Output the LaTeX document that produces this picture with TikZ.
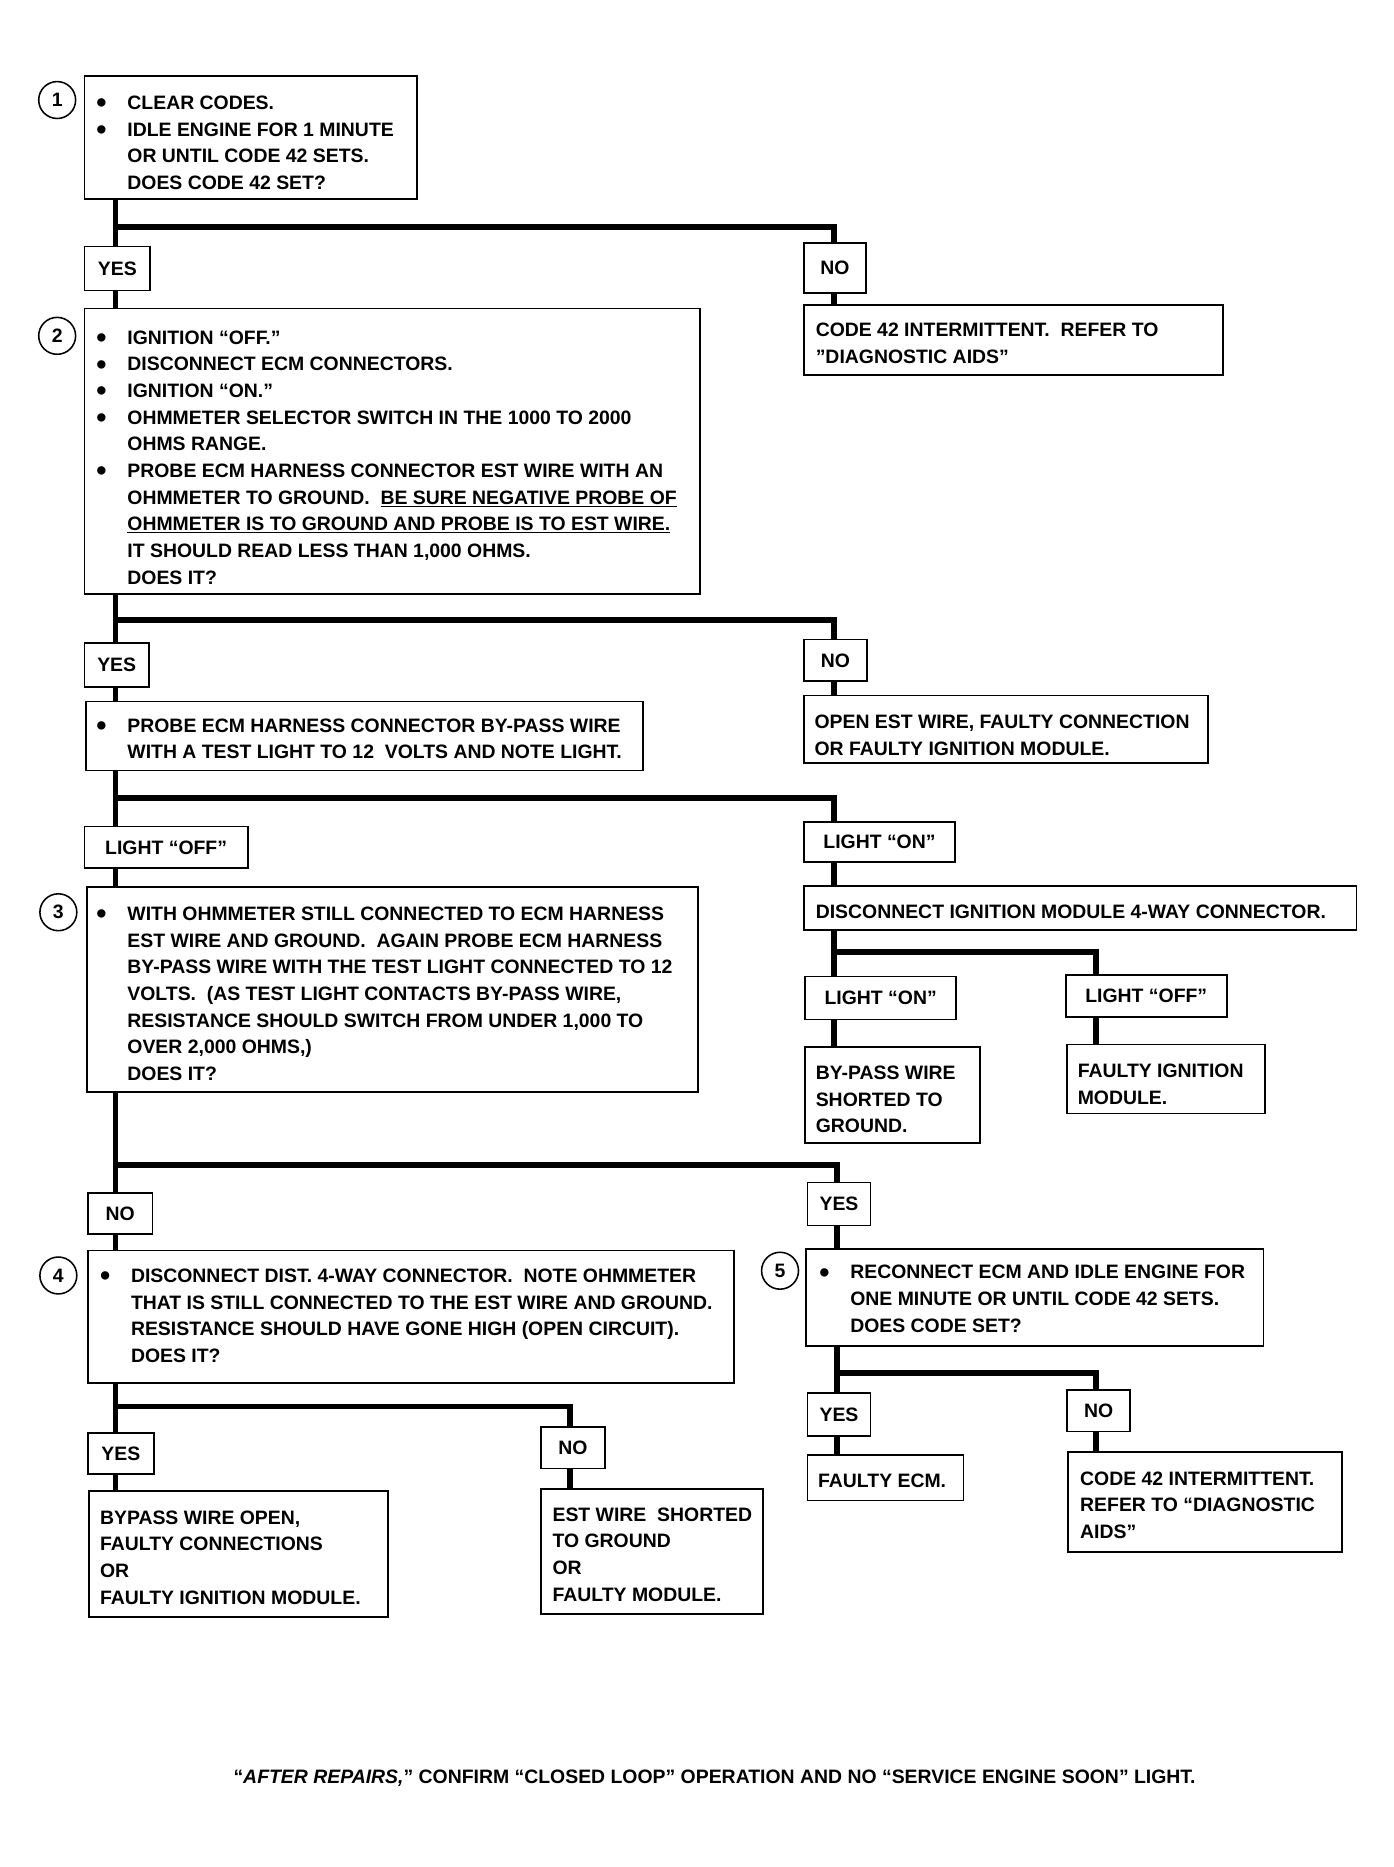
\documentclass[tikz,border=0pt]{standalone}
\usepackage{fontspec}
\setmainfont{Liberation Sans}
\newcommand{\fs}{\fontsize{16.3}{22.4}\selectfont\bfseries}
\newcommand{\bu}{\makebox[25pt][l]{\hspace*{-1pt}\raisebox{-2.9pt}{\scalebox{1.5}{\textbullet}}}}
\newcommand{\ind}{\hspace*{25pt}}
\newcommand{\bx}[5]{\node[box, minimum width={#4-#2}, minimum height={#5-#3}] (#1) at (#2,#3) {};}
\newcommand{\lb}[6]{\node[box, font=\fs, minimum width={#4-#2}, minimum height={#5-#3}] (#1) at (#2,#3) {#6};}
\tikzset{
  box/.style={draw, line width=1.5pt, inner sep=0pt, outer sep=0pt, anchor=north west, fill=white},
  txt/.style={anchor=north west, inner sep=0pt, outer sep=0pt, align=left, font=\fs},
  wire/.style={line width=5pt, line join=miter},
  num/.style={circle, draw, line width=1.3pt, minimum size=31pt, inner sep=0pt, font=\fs},
}
\begin{document}
\begin{tikzpicture}[x=1pt,y=-1pt]
\useasboundingbox (0,0) rectangle (1170.5,1567.7);
% trunk coordinates
\coordinate (ta) at (97,0);
\coordinate (tb) at (700,0);
\coordinate (tc) at (920,0);
\coordinate (td) at (703,0);
\coordinate (te) at (479,0);
\coordinate (j1) at (97,191);
\coordinate (j2) at (97,521);
\coordinate (j3) at (97,670);
\coordinate (j4) at (700,799);
\coordinate (j5) at (97,978);
\coordinate (j6) at (97,1181);
\coordinate (j7) at (703,1153);

% boxes
\bx{b1}{71}{64}{350}{167}
\lb{y1}{71}{207}{126}{244}{YES}
\lb{n1}{675}{204}{727}{246}{NO}
\bx{nb1}{675}{256}{1027}{315}
\bx{b2}{71}{259}{588}{499}
\lb{y2}{71}{540}{125}{577}{YES}
\lb{n2}{675}{537}{728}{572}{NO}
\bx{nb2}{675}{584}{1014}{641}
\bx{bp}{72}{589}{540}{647}
\lb{lo1}{71}{694}{208}{729}{LIGHT “OFF”}
\lb{ln1}{675}{690}{802}{724}{LIGHT “ON”}
\bx{dim}{675}{744}{1139}{781}
\lb{ln2}{676}{820}{803}{856}{LIGHT “ON”}
\lb{lo2}{895}{819}{1030}{854}{LIGHT “OFF”}
\bx{bps}{676}{879}{823}{960}
\bx{fim}{896}{877}{1062}{935}
\bx{b3}{73}{745}{586}{917}
\lb{n3}{74}{1002}{128}{1036}{NO}
\lb{y3}{678}{993}{731}{1029}{YES}
\bx{b4}{74}{1050}{616}{1161}
\bx{b5}{677}{1049}{1061}{1130}
\lb{y4}{74}{1203}{129}{1238}{YES}
\lb{n4}{454}{1198}{508}{1233}{NO}
\bx{bwo}{75}{1252}{326}{1358}
\bx{ews}{454}{1250}{641}{1355}
\lb{y5}{678}{1170}{731}{1206}{YES}
\lb{n5}{896}{1167}{949}{1202}{NO}
\bx{fecm}{678}{1222}{809}{1260}
\bx{c42}{897}{1219}{1127}{1303}

% connectors
\draw[wire] (b1.south -| ta) -- (y1.north -| ta);
\draw[wire] (j1) -| (n1.north -| tb);
\draw[wire] (y1.south -| ta) -- (b2.north -| ta);
\draw[wire] (n1.south -| tb) -- (nb1.north -| tb);
\draw[wire] (b2.south -| ta) -- (y2.north -| ta);
\draw[wire] (j2) -| (n2.north -| tb);
\draw[wire] (y2.south -| ta) -- (bp.north -| ta);
\draw[wire] (n2.south -| tb) -- (nb2.north -| tb);
\draw[wire] (bp.south -| ta) -- (lo1.north -| ta);
\draw[wire] (j3) -| (ln1.north -| tb);
\draw[wire] (lo1.south -| ta) -- (b3.north -| ta);
\draw[wire] (ln1.south -| tb) -- (dim.north -| tb);
\draw[wire] (dim.south -| tb) -- (ln2.north -| tb);
\draw[wire] (j4) -| (lo2.north -| tc);
\draw[wire] (ln2.south -| tb) -- (bps.north -| tb);
\draw[wire] (lo2.south -| tc) -- (fim.north -| tc);
\draw[wire] (b3.south -| ta) -- (n3.north -| ta);
\draw[wire] (j5) -| (y3.north -| td);
\draw[wire] (n3.south -| ta) -- (b4.north -| ta);
\draw[wire] (y3.south -| td) -- (b5.north -| td);
\draw[wire] (b4.south -| ta) -- (y4.north -| ta);
\draw[wire] (j6) -| (n4.north -| te);
\draw[wire] (y4.south -| ta) -- (bwo.north -| ta);
\draw[wire] (n4.south -| te) -- (ews.north -| te);
\draw[wire] (b5.south -| td) -- (y5.north -| td);
\draw[wire] (j7) -| (n5.north -| tc);
\draw[wire] (y5.south -| td) -- (fecm.north -| td);
\draw[wire] (n5.south -| tc) -- (c42.north -| tc);

% step numbers
\node[num] (c1) at (48,84) {1};
\node[num] (c2) at (48,282) {2};
\node[num] (c3) at (49,766) {3};
\node[num] (c4) at (49,1071) {4};
\node[num] (c5) at (655,1067) {5};

% texts
\node[txt] (t1) at (82,80.5) {\bu CLEAR CODES.\\
\bu IDLE ENGINE FOR 1 MINUTE\\
\ind OR UNTIL CODE 42 SETS.\\
\ind DOES CODE 42 SET?};
\node[txt] (tn1) at (685,271.5) {CODE 42 INTERMITTENT.\ \ REFER TO\\
”DIAGNOSTIC AIDS”};
\node[txt] (t2) at (82,277.5) {\bu IGNITION “OFF.”\\
\bu DISCONNECT ECM CONNECTORS.\\
\bu IGNITION “ON.”\\
\bu OHMMETER SELECTOR SWITCH IN THE 1000 TO 2000\\
\ind OHMS RANGE.\\
\bu PROBE ECM HARNESS CONNECTOR EST WIRE WITH AN\\
\ind OHMMETER TO GROUND.\ \ \underline{BE SURE NEGATIVE PROBE OF}\\
\ind \underline{OHMMETER IS TO GROUND AND PROBE IS TO EST WIRE.}\\
\ind IT SHOULD READ LESS THAN 1,000 OHMS.\\
\ind DOES IT?};
\node[txt] (tn2) at (684,600.5) {OPEN EST WIRE, FAULTY CONNECTION\\
OR FAULTY IGNITION MODULE.};
\node[txt] (tp) at (82,603.5) {\bu PROBE ECM HARNESS CONNECTOR BY-PASS WIRE\\
\ind WITH A TEST LIGHT TO 12\ \ VOLTS AND NOTE LIGHT.};
\node[txt] (tdim) at (685,759.5) {DISCONNECT IGNITION MODULE 4-WAY CONNECTOR.};
\node[txt] (tbps) at (685,895) {BY-PASS WIRE\\
SHORTED TO\\
GROUND.};
\node[txt] (tfim) at (905,893.5) {FAULTY IGNITION\\
MODULE.};
\node[txt] (t3) at (82,761.5) {\bu WITH OHMMETER STILL CONNECTED TO ECM HARNESS\\
\ind EST WIRE AND GROUND.\ \ AGAIN PROBE ECM HARNESS\\
\ind BY-PASS WIRE WITH THE TEST LIGHT CONNECTED TO 12\\
\ind VOLTS.\ \ (AS TEST LIGHT CONTACTS BY-PASS WIRE,\\
\ind RESISTANCE SHOULD SWITCH FROM UNDER 1,000 TO\\
\ind OVER 2,000 OHMS,)\\
\ind DOES IT?};
\node[txt] (t4) at (85,1065.5) {\bu DISCONNECT DIST. 4-WAY CONNECTOR.\ \ NOTE OHMMETER\\
\ind THAT IS STILL CONNECTED TO THE EST WIRE AND GROUND.\\
\ind RESISTANCE SHOULD HAVE GONE HIGH (OPEN CIRCUIT).\\
\ind DOES IT?};
\node[txt] (t5) at (689,1062.3) {\bu RECONNECT ECM AND IDLE ENGINE FOR\\
\ind ONE MINUTE OR UNTIL CODE 42 SETS.\\
\ind DOES CODE SET?};
\node[txt] (tbwo) at (84,1268.5) {BYPASS WIRE OPEN,\\
FAULTY CONNECTIONS\\
OR\\
FAULTY IGNITION MODULE.};
\node[txt] (tews) at (464,1266) {EST WIRE\ \ SHORTED\\
TO GROUND\\
OR\\
FAULTY MODULE.};
\node[txt] (tfecm) at (687,1237.5) {FAULTY ECM.};
\node[txt] (tc42) at (907,1235.8) {CODE 42 INTERMITTENT.\\
REFER TO “DIAGNOSTIC\\
AIDS”};

% footer
\node[font=\fs, inner sep=0pt] (foot) at (600,1493) {“\textit{AFTER REPAIRS,}” CONFIRM “CLOSED LOOP” OPERATION AND NO “SERVICE ENGINE SOON” LIGHT.};
\end{tikzpicture}
\end{document}
